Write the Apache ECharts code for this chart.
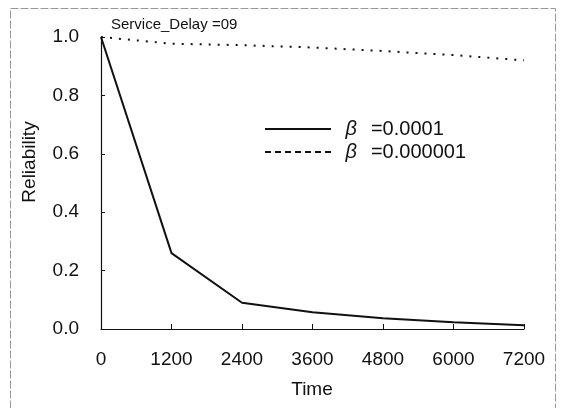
<!DOCTYPE html>
<html><head><meta charset="utf-8">
<script src="https://cdn.jsdelivr.net/npm/echarts@6/dist/echarts.min.js"></script>
<style>html,body{margin:0;padding:0;background:#fff}#c{width:563px;height:408px}</style>
</head><body><div id="c"></div>
<script>
var times = [0, 1200, 2400, 3600, 4800, 6000, 7200];
var xTicks = ['0','1200','2400','3600','4800','6000','7200'];
var relBeta1 = [1.0, 0.26, 0.09, 0.057, 0.037, 0.023, 0.013];
var relBeta2 = [1.0, 0.977, 0.972, 0.964, 0.952, 0.938, 0.92];
var seriesNames = ['β =0.0001', 'β =0.000001'];
var titleText = 'Service_Delay =09';
var xTitle = 'Time';
var yTitle = 'Reliability';

var chart = echarts.init(document.getElementById('c'));
var font = 'Liberation Sans, Arial, sans-serif';
var solidIcon = 'path://M0,0h66v2h-66z';
var dashIcon = 'path://M0,0h6v2h-6z M10,0h6v2h-6z M20,0h6v2h-6z M30,0h6v2h-6z M40,0h6v2h-6z M50,0h6v2h-6z M60,0h6v2h-6z';
chart.setOption({
  animation: false,
  backgroundColor: '#fff',
  title: {text: titleText, left: 106, top: 12, textStyle: {fontFamily: font, fontSize: 15, fontWeight: 'normal', color: '#111'}},
  grid: {left: 101, right: 39, top: 37, bottom: 79},
  legend: {
    orient: 'vertical', left: 260, top: 114, itemWidth: 67, itemHeight: 2, itemGap: 3,
    itemStyle: {color: '#111', borderWidth: 0},
    textStyle: {fontFamily: font, fontSize: 20, color: '#111',
      rich: {
        b: {fontStyle: 'italic', fontSize: 20, fontFamily: font, color: '#111', padding: [0, 0, 0, 9]},
        t: {fontSize: 20, fontFamily: font, color: '#111', padding: [0, 0, 0, 14]}
      }},
    formatter: function (n) { return '{b|β}{t|' + n.slice(1).trim() + '}'; },
    data: [
      {name: seriesNames[0], icon: solidIcon},
      {name: seriesNames[1], icon: dashIcon}
    ]
  },
  graphic: [
    {type: 'rect', shape: {x: 10.5, y: 8.5, width: 545, height: 420}, style: {fill: 'none', stroke: '#999', lineWidth: 1, lineDash: [8, 2]}},
    {type: 'text', x: 30, y: 162, rotation: Math.PI / 2,
     style: {text: yTitle, font: '19px ' + font, fill: '#111', align: 'center', verticalAlign: 'middle'}},
    {type: 'text', x: 312, y: 390,
     style: {text: xTitle, font: '19px ' + font, fill: '#111', align: 'center', verticalAlign: 'middle'}}
  ],
  xAxis: {
    type: 'value', min: 0, max: 7200, interval: 1200,
    axisLine: {lineStyle: {color: '#111', width: 1.2}},
    axisTick: {inside: true, length: 5, lineStyle: {color: '#111'}},
    splitLine: {show: false},
    axisLabel: {fontFamily: font, fontSize: 19, color: '#111', margin: 21, formatter: function (v) { return xTicks[times.indexOf(v)]; }}
  },
  yAxis: {
    type: 'value', min: 0, max: 1, interval: 0.2,
    axisLine: {show: true, lineStyle: {color: '#111', width: 1.2}},
    axisTick: {show: true, inside: true, length: 4, lineStyle: {color: '#111'}},
    splitLine: {show: false},
    axisLabel: {fontFamily: font, fontSize: 19, color: '#111', margin: 22, formatter: function (v) { return v.toFixed(1); }}
  },
  series: [
    {name: seriesNames[0], type: 'line', symbol: 'none', data: times.map(function (t, i) { return [t, relBeta1[i]]; }),
     lineStyle: {color: '#111', width: 2}, itemStyle: {color: '#111'}},
    {name: seriesNames[1], type: 'line', symbol: 'none', data: times.map(function (t, i) { return [t, relBeta2[i]]; }),
     lineStyle: {color: '#111', width: 2, type: [2, 7]}, itemStyle: {color: '#111'}}
  ]
});
</script></body></html>
